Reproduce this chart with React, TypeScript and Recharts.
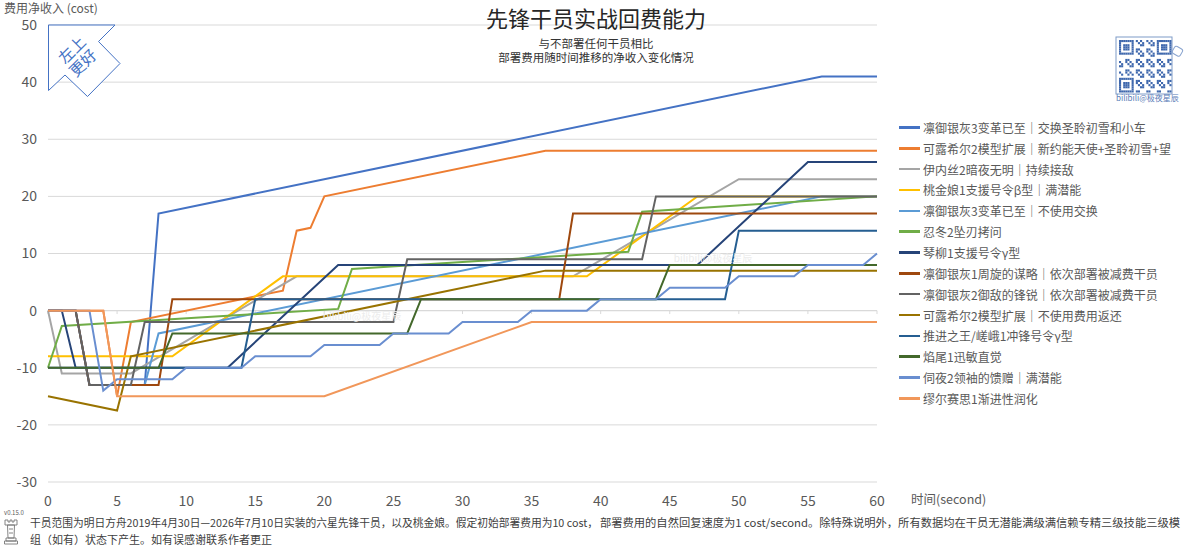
import React from 'react';
import { LineChart, Line, XAxis, YAxis, CartesianGrid, ReferenceLine } from 'recharts';

const FONT = '"Noto Sans CJK SC", "Noto Sans", sans-serif';

type Pt = [number, number];

const seriesNames = [
  '凛御银灰3变革已至｜交换圣聆初雪和小车',
  '可露希尔2模型扩展｜新约能天使+圣聆初雪+望',
  '伊内丝2暗夜无明｜持续接敌',
  '桃金娘1支援号令β型｜满潜能',
  '凛御银灰3变革已至｜不使用交换',
  '忍冬2坠刃拷问',
  '琴柳1支援号令γ型',
  '凛御银灰1周旋的谋略｜依次部署被减费干员',
  '凛御银灰2御敌的锋锐｜依次部署被减费干员',
  '可露希尔2模型扩展｜不使用费用返还',
  '推进之王/嵯峨1冲锋号令γ型',
  '焰尾1迅敏直觉',
  '伺夜2领袖的馈赠｜满潜能',
  '缪尔赛思1渐进性润化',
];

const seriesColors = [
  '#4472C4', '#ED7D31', '#A5A5A5', '#FFC000', '#5B9BD5', '#70AD47', '#264478',
  '#9E480E', '#636363', '#997300', '#255E91', '#43682B', '#698ED0', '#F1975A',
];

const xTicks = [0, 5, 10, 15, 20, 25, 30, 35, 40, 45, 50, 55, 60];
const yTicks = [-30, -20, -10, 0, 10, 20, 30, 40, 50];

// [time (s), net cost]
const silverAsh3Swap: Pt[] = [[0, 0], [2, 0], [3, -13], [7, -13], [8, 17], [56, 41], [60, 41]];
const closure2Full: Pt[] = [[0, 0], [4, 0], [5, -15], [6, -2], [17, 3.5], [18, 14], [19, 14.5], [20, 20], [36, 28], [60, 28]];
const ines2: Pt[] = [[0, 0], [1, -11], [6, -11], [18, 6], [38, 6], [50, 23], [60, 23]];
const myrtle1: Pt[] = [[0, -8], [9, -8], [17, 6], [39, 6], [47, 20], [60, 20]];
const silverAsh3NoSwap: Pt[] = [[0, 0], [2, 0], [3, -13], [7, -13], [8, -4], [56, 20], [60, 20]];
const rennaRen2: Pt[] = [[0, -10], [1, -2.7], [21, 0.3], [22, 7.3], [42, 10.3], [43, 17.3], [60, 20]];
const qinliu1: Pt[] = [[0, 0], [1, 0], [2, -10], [13, -10], [21, 8], [47, 8], [55, 26], [60, 26]];
const silverAsh1: Pt[] = [[0, 0], [2, 0], [3, -13], [8, -13], [9, 2], [37, 2], [38, 17], [60, 17]];
const silverAsh2: Pt[] = [[0, 0], [2, 0], [3, -13], [6, -13], [7, -2], [25, -2], [26, 9], [43, 9], [44, 20], [60, 20]];
const closure2NoRefund: Pt[] = [[0, -15], [5, -17.5], [6, -8], [36, 7], [60, 7]];
const siege1: Pt[] = [[0, -10], [14, -10], [15, 2], [49, 2], [50, 14], [60, 14]];
const flametail1: Pt[] = [[0, -10], [8, -10], [9, -4], [26, -4], [27, 2], [44, 2], [45, 8], [60, 8]];
const vigil2: Pt[] = [
  [0, 0], [3, 0], [4, -14], [5, -12], [9, -12], [10, -10], [14, -10], [15, -8], [19, -8], [20, -6],
  [24, -6], [25, -4], [29, -4], [30, -2], [34, -2], [35, 0], [39, 0], [40, 2], [44, 2], [45, 4],
  [49, 4], [50, 6], [54, 6], [55, 8], [59, 8], [60, 10],
];
const muelsyse1: Pt[] = [[0, 0], [4, 0], [5, -15], [20, -15], [35, -2], [60, -2]];

const seriesPoints: Pt[][] = [
  silverAsh3Swap, closure2Full, ines2, myrtle1, silverAsh3NoSwap, rennaRen2, qinliu1,
  silverAsh1, silverAsh2, closure2NoRefund, siege1, flametail1, vigil2, muelsyse1,
];

const series = seriesNames.map((name, i) => ({
  name,
  color: seriesColors[i],
  data: seriesPoints[i].map(([t, v]) => ({ t, v })),
}));

const footLine1a = '干员范围为明日方舟2019年4月30日—2026年7月10日实装的六星先锋干员，以及桃金娘。假定初始部署费用为10 cost，';
const footLine1b = '部署费用的自然回复速度为1 cost/second。除特殊说明外，所有数据均在干员无潜能满级满信赖专精三级技能三级模';
const footLine2 = '组（如有）状态下产生。如有误感谢联系作者更正';

// decorative qr-ish block
function qrCells() {
  const n = 25;
  const out: { r: number; c: number }[] = [];
  const finders = [[0, 0], [0, n - 7], [n - 7, 0]];
  for (let r = 0; r < n; r++) {
    for (let c = 0; c < n; c++) {
      let on: boolean | null = null;
      for (const [r0, c0] of finders) {
        const dr = r - r0, dc = c - c0;
        if (dr >= -1 && dc >= -1 && dr <= 7 && dc <= 7) {
          if (dr < 0 || dc < 0 || dr > 6 || dc > 6) on = false;
          else on = Math.max(Math.abs(dr - 3), Math.abs(dc - 3)) !== 2;
        }
      }
      if (on === null) on = (r * 13 + c * 7 + r * c) % 5 < 2;
      if (on) out.push({ r, c });
    }
  }
  return out;
}

function Overlay() {
  const qx = 1119, qy = 40, qs = 2.1;
  return (
    <svg width={1192} height={550} style={{ position: 'absolute', left: 0, top: 0, pointerEvents: 'none' }} fontFamily={FONT}>
      <text x={4} y={13} fontSize={12} fill="#595959">费用净收入 (cost)</text>
      <text x={596} y={27} fontSize={22} fill="#262626" textAnchor="middle">先锋干员实战回费能力</text>
      <text x={596} y={48} fontSize={11.5} fill="#333" textAnchor="middle">与不部署任何干员相比</text>
      <text x={596} y={62} fontSize={11.5} fill="#333" textAnchor="middle">部署费用随时间推移的净收入变化情况</text>

      <polygon points="48.5,25 115,25 98.5,41.5 120,63.5 87.5,96.5 65,75 48.5,90.5" fill="#fff" stroke="#4472C4" strokeWidth={1} />
      <g transform="rotate(-45 72 50)">
        <text x={72} y={55.5} fontSize={15.5} fill="#4472C4" textAnchor="middle">左上</text>
      </g>
      <g transform="rotate(-45 83 63)">
        <text x={83} y={68.5} fontSize={15.5} fill="#4472C4" textAnchor="middle">更好</text>
      </g>

      <text x={911} y={504} fontSize={12.5} fill="#595959">时间(second)</text>

      <rect x={1116} y={37} width={56} height={57} fill="#fff" stroke="#7f9cc8" strokeWidth={1} />
      {qrCells().map(({ r, c }) => (
        <rect key={`${r}-${c}`} x={qx + c * qs} y={qy + r * qs} width={qs} height={qs} fill="#3f68ad" />
      ))}
      <rect x={1173} y={47} width={9} height={8} rx={2} fill="none" stroke="#8aa4cf" strokeWidth={1} transform="rotate(30 1177 51)" />
      <text x={1116} y={101} fontSize={8} fill="#5b7db8">bilibili@极夜星辰</text>

      <text x={362} y={320} fontSize={10} fill="#ececec" textAnchor="middle">bilibili@极夜星辰</text>
      <text x={713} y={262} fontSize={10} fill="#ececec" textAnchor="middle">bilibili@极夜星辰</text>

      <text x={4} y={515} fontSize={6} fill="#595959">v0.15.0</text>
      <g fill="none" stroke="#777" strokeWidth={0.9}>
        <path d="M5 520 h3 v2 h2 v-2 h2 v2 h2 v-2 h3 v5 h-12 z" />
        <path d="M7.5 525 L14.5 525 L14 538 L8 538 Z" />
        <path d="M9 529 h4 M9 533 h4" />
        <path d="M6 538 h10 v3 h-10 z" />
        <path d="M4.5 541 h13 v3 h-13 z" />
      </g>
      <text x={30} y={527} fontSize={11} fill="#404040" textLength={568} lengthAdjust="spacingAndGlyphs">{footLine1a}</text>
      <text x={600} y={527} fontSize={11} fill="#404040" textLength={580} lengthAdjust="spacingAndGlyphs">{footLine1b}</text>
      <text x={30} y={544} fontSize={11} fill="#404040">{footLine2}</text>
    </svg>
  );
}

function LegendBox() {
  return (
    <div style={{ position: 'absolute', left: 899, top: 117, fontFamily: FONT, fontSize: 12, color: '#595959' }}>
      {series.map(s => (
        <div key={s.name} style={{ display: 'flex', alignItems: 'center', height: 20.85, whiteSpace: 'nowrap' }}>
          <span style={{ display: 'inline-block', width: 21, height: 2.5, background: s.color, marginRight: 3 }} />
          <span>{s.name}</span>
        </div>
      ))}
    </div>
  );
}

export default function App() {
  return (
    <div style={{ position: 'relative', width: 1192, height: 550, background: '#fff', fontFamily: FONT }}>
      <style>{'body{margin:0}'}</style>
      <LineChart width={1192} height={550} margin={{ top: 25, right: 315, bottom: 38, left: 8 }}>
        <CartesianGrid vertical={false} stroke="#D9D9D9" />
        <XAxis
          type="number"
          dataKey="t"
          domain={[0, 60]}
          ticks={xTicks}
          interval={0}
          height={30}
          axisLine={false}
          tickLine={false}
          tickMargin={8}
          tick={{ fill: '#595959', fontSize: 14, fontFamily: FONT }}
        />
        <YAxis
          type="number"
          domain={[-30, 50]}
          ticks={yTicks}
          interval={0}
          width={40}
          axisLine={false}
          tickLine={false}
          tickMargin={5}
          tick={{ fill: '#595959', fontSize: 14, fontFamily: FONT }}
        />
        <ReferenceLine y={0} stroke="#D9D9D9" />
        {xTicks.map(t => (
          <ReferenceLine key={`tk${t}`} segment={[{ x: t, y: 0 }, { x: t, y: -0.6 }]} stroke="#D9D9D9" />
        ))}
        {series.map(s => (
          <Line
            key={s.name}
            data={s.data}
            dataKey="v"
            name={s.name}
            type="linear"
            stroke={s.color}
            strokeWidth={2}
            dot={false}
            activeDot={false}
            isAnimationActive={false}
          />
        ))}
      </LineChart>
      <LegendBox />
      <Overlay />
    </div>
  );
}
